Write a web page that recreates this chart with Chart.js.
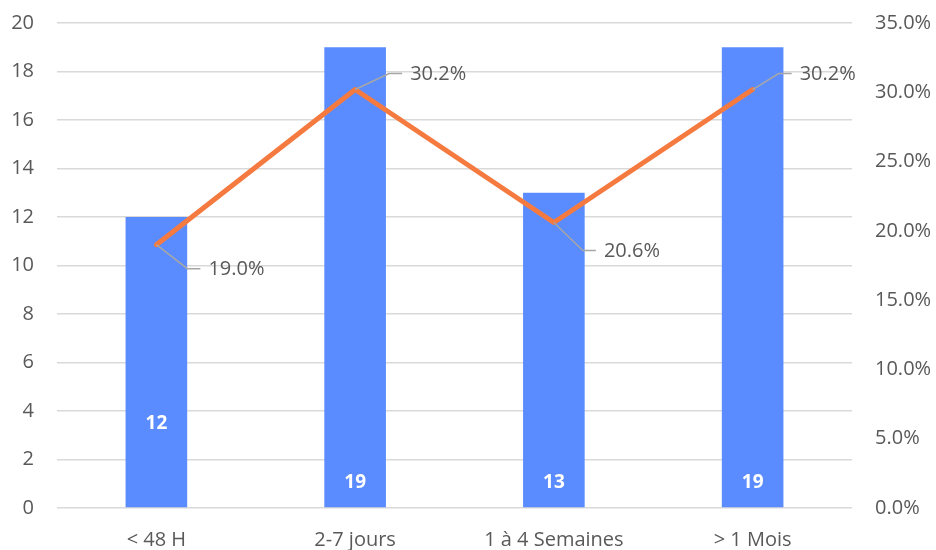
<!DOCTYPE html>
<html>
<head>
<meta charset="utf-8">
<script src="https://cdn.jsdelivr.net/npm/chart.js@4/dist/chart.umd.min.js"></script>
<style>
  html, body { margin: 0; padding: 0; background: #ffffff; }
  #wrap { width: 936px; height: 550px; position: relative; }
</style>
</head>
<body>
<div id="wrap"><canvas id="chart"></canvas></div>
<script>
// Délai de prise en charge : effectifs et part de chaque tranche
const categories = ['< 48 H', '2-7 jours', '1 à 4 Semaines', '> 1 Mois'];
const counts = [12, 19, 13, 19];
const shares = [0.190, 0.302, 0.206, 0.302];

const countTicks = [0, 2, 4, 6, 8, 10, 12, 14, 16, 18, 20];
const shareTicks = [0, 0.05, 0.10, 0.15, 0.20, 0.25, 0.30, 0.35];

const FONT = '"Open Sans", "Noto Sans", sans-serif';
const TEXT = '#595959';
const GRID = '#d9d9d9';
const BAR = '#5b8cff';
const LINE = '#f57a40';

// Value labels: white bold counts inside the bars, percentages with leader lines
const valueLabels = {
  id: 'valueLabels',
  afterDatasetsDraw(chart, args, opts) {
    const ctx = chart.ctx;
    const yCount = chart.scales.y;

    // counts, drawn near the base of each bar
    const barMeta = chart.getDatasetMeta(1);
    ctx.save();
    ctx.fillStyle = '#ffffff';
    ctx.font = 'bold 19px ' + FONT;
    ctx.textAlign = 'center';
    ctx.textBaseline = 'middle';
    barMeta.data.forEach((bar, i) => {
      const lift = opts.barLabelLift[i];
      ctx.fillText(String(counts[i]), bar.x, yCount.getPixelForValue(0) - lift);
    });
    ctx.restore();

    // percentages beside the line points
    const lineMeta = chart.getDatasetMeta(0);
    ctx.save();
    ctx.font = '20px ' + FONT;
    ctx.textAlign = 'left';
    ctx.textBaseline = 'middle';
    lineMeta.data.forEach((pt, i) => {
      const [dx, dy] = opts.lineLabelShift[i];
      const tx = pt.x + dx;
      const ty = pt.y + dy;
      ctx.strokeStyle = '#a6a6a6';
      ctx.lineWidth = 1.5;
      ctx.beginPath();
      ctx.moveTo(pt.x, pt.y);
      ctx.lineTo(tx - 21, ty);
      ctx.lineTo(tx - 8, ty);
      ctx.stroke();
      ctx.fillStyle = TEXT;
      ctx.fillText((shares[i] * 100).toFixed(1) + '%', tx, ty + 1);
    });
    ctx.restore();
  }
};

// vertical axes: fixed width, no extra room reserved above/below for labels
const fitVertical = width => scale => {
  scale.width = width;
  scale.paddingTop = 0;
  scale.paddingBottom = 0;
};

new Chart(document.getElementById('chart'), {
  data: {
    labels: categories,
    datasets: [
      {
        type: 'line',
        label: 'Part',
        data: shares,
        yAxisID: 'y2',
        borderColor: LINE,
        backgroundColor: LINE,
        borderWidth: 5,
        pointRadius: 0,
        tension: 0,
        borderJoinStyle: 'round',
        borderCapStyle: 'round',
        order: 0
      },
      {
        type: 'bar',
        label: 'Effectif',
        data: counts,
        yAxisID: 'y',
        backgroundColor: BAR,
        borderWidth: 0,
        barPercentage: 0.31,
        categoryPercentage: 1,
        order: 1
      }
    ]
  },
  options: {
    responsive: true,
    maintainAspectRatio: false,
    animation: false,
    layout: { padding: { top: 23, bottom: 0, left: 0, right: 0 } },
    plugins: {
      legend: { display: false },
      tooltip: { enabled: false },
      valueLabels: {
        barLabelLift: [84, 25, 25, 25],
        lineLabelShift: [[52, 24], [55, -16], [50, 28], [47, -16]]
      }
    },
    scales: {
      x: {
        grid: { display: false, drawTicks: false },
        border: { display: false },
        ticks: { color: TEXT, font: { family: FONT, size: 20 }, padding: 20, maxRotation: 0 },
        afterFit(scale) { scale.height = 42; }
      },
      y: {
        position: 'left',
        min: 0,
        max: 20,
        afterBuildTicks(scale) { scale.ticks = countTicks.map(v => ({ value: v })); },
        grid: { color: GRID, lineWidth: 1.5, drawTicks: false },
        border: { display: false },
        ticks: { color: TEXT, font: { family: FONT, size: 20 }, padding: 23 },
        afterFit: fitVertical(57)
      },
      y2: {
        position: 'right',
        min: 0,
        max: 0.35,
        afterBuildTicks(scale) { scale.ticks = shareTicks.map(v => ({ value: v })); },
        grid: { drawOnChartArea: false, drawTicks: false },
        border: { display: false },
        ticks: {
          color: TEXT,
          font: { family: FONT, size: 20 },
          padding: 23,
          callback: v => (v * 100).toFixed(1) + '%'
        },
        afterFit: fitVertical(84)
      }
    }
  },
  plugins: [valueLabels]
});
</script>
</body>
</html>
